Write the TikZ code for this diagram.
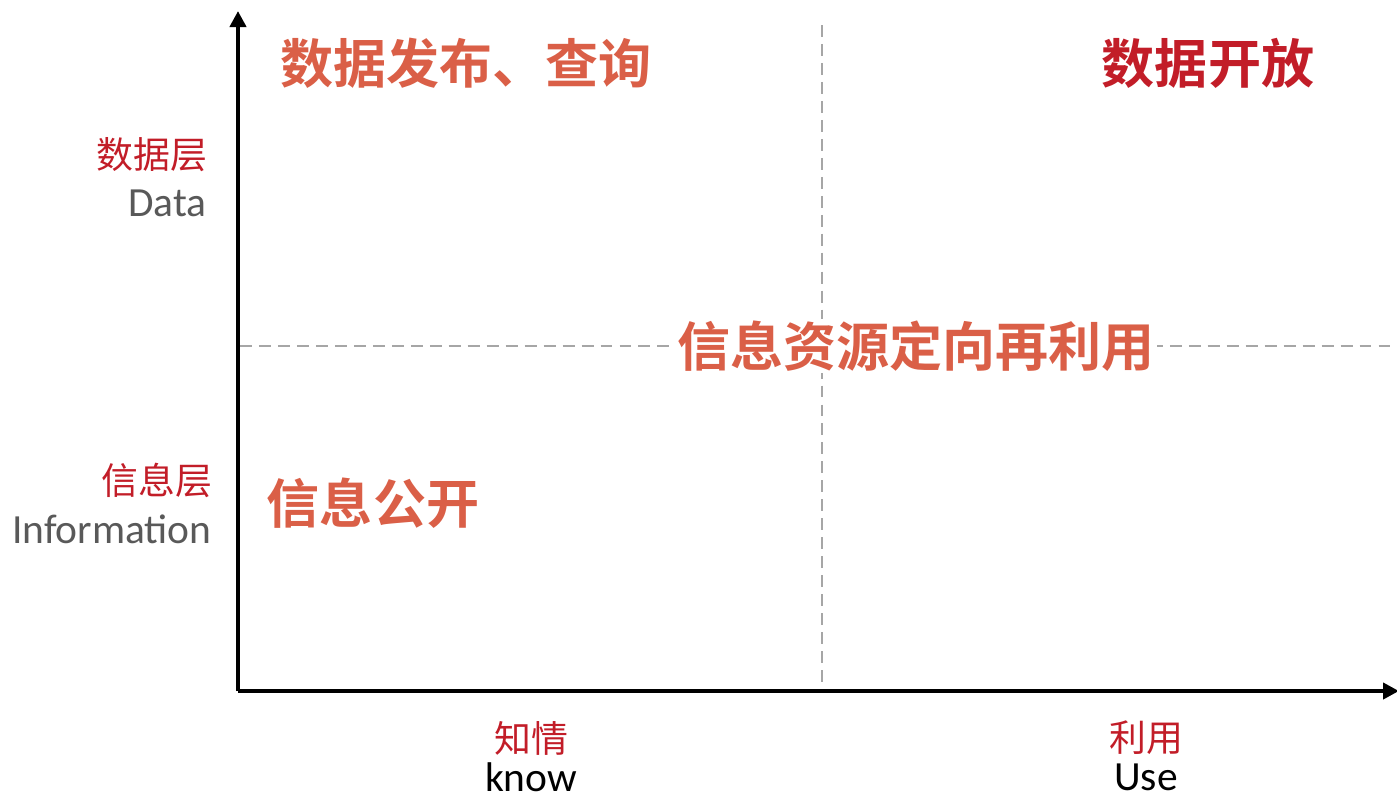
\documentclass[tikz,border=0pt]{standalone}
\usepackage{fontspec}
\setmainfont{Carlito}
\newfontfamily\cjk[BoldFont={Noto Sans CJK SC Bold}]{Noto Sans CJK SC}
\usetikzlibrary{arrows.meta}
\definecolor{quadred}{HTML}{DA5F47}
\definecolor{darkred}{HTML}{C21D28}
\definecolor{axisgray}{HTML}{595959}
\definecolor{dashgray}{HTML}{A6A6A6}
\tikzset{
  axis/.style={line width=2.3pt, -{Triangle[length=0.32cm,width=0.32cm]}},
  divider/.style={dashgray, line width=1.1pt, dash pattern=on 6.8pt off 4pt},
  quadlabel/.style={quadred, font=\cjk\bfseries\fontsize{30.2}{35}\selectfont},
  levelcn/.style={darkred, anchor=east, inner sep=0pt, font=\cjk\fontsize{21}{25}\selectfont},
  levelen/.style={axisgray, anchor=east, inner sep=0pt, font=\fontsize{23.6}{28}\selectfont},
  usecn/.style={darkred, inner sep=0pt, font=\cjk\fontsize{21}{25}\selectfont},
  useen/.style={black, inner sep=0pt, font=\fontsize{23.6}{28}\selectfont}
}
\begin{document}
\begin{tikzpicture}[x=0.02cm, y=-0.02cm]
                \useasboundingbox (0,0) rectangle (1397,799);

                % Axis end points
                \coordinate (O) at (238,691);
                \coordinate (ytop) at (238,11);
                \coordinate (xend) at (1399,691);

                % Drawing dashed dividers
                \coordinate (vtop) at (822,25);
                \coordinate (vbot) at (822,688);
                \coordinate (hleft) at (240,346);
                \coordinate (hright) at (1397,346);
                \draw [divider] (vtop) -- (vbot);%
                \draw [divider] (hleft) -- (hright);%

                % Drawing axes
                \draw [axis] (O) -- (ytop);%
                \draw [axis] (O) -- (xend);%

                % Quadrant labels
                \node [quadlabel] (publish) at (466,63) {数据发布、查询};%
                \node [quadlabel, text=darkred] (opendata) at (1208,63) {数据开放};%
                \node [quadlabel, fill=white, inner sep=1pt] (reuse) at (916,346) {信息资源定向再利用};%
                \node [quadlabel] (disclose) at (373,503) {信息公开};%

                % Level labels on y axis
                \node [levelcn] (datacn) at (208,155) {数据层};%
                \node [levelen] (dataen) at (207,203) {Data};%
                \node [levelcn] (infocn) at (213,480) {信息层};%
                \node [levelen] (infoen) at (212,529) {Information};%

                % Purpose labels on x axis
                \node [usecn] (knowcn) at (531,738) {知情};%
                \node [useen] (knowen) at (531,777) {know};%
                \node [usecn] (usecn) at (1146,738) {利用};%
                \node [useen] (useen) at (1146,777) {Use};%
\end{tikzpicture}
\end{document}
